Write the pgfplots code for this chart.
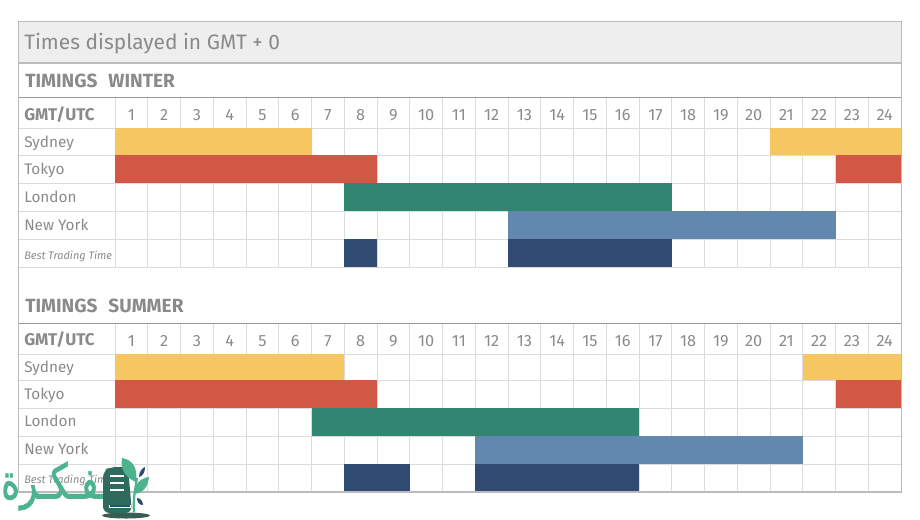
\documentclass[border=0pt]{standalone}
\usepackage{pgfplots}
\pgfplotsset{compat=1.18}
\usepackage{fontspec}
\setmainfont{Fira Sans}
\newfontfamily\arabicfont[Script=Arabic,FakeBold=1.5]{DejaVu Sans}
\TeXXeTstate=1
\definecolor{txt}{HTML}{8A8A8A}
\definecolor{gridc}{HTML}{DCDCDC}
\definecolor{frame}{HTML}{BBBBBB}
\definecolor{syd}{HTML}{F6C660}
\definecolor{tok}{HTML}{D25745}
\definecolor{lon}{HTML}{318672}
\definecolor{nyc}{HTML}{6288AD}
\definecolor{best}{HTML}{2F4B71}
\definecolor{logog}{HTML}{4DB38F}
\definecolor{logod}{HTML}{2F6B5C}
\newcommand{\px}{0.75pt}
\pgfplotsset{
  timing/.style={
    scale only axis, width=883*\px,
    xmin=-2.962, xmax=24, y dir=reverse,
    axis line style={draw=none},
    xtick={0.5,1.5,...,23.5},
    xticklabels={1,2,3,4,5,6,7,8,9,10,11,12,13,14,15,16,17,18,19,20,21,22,23,24},
    minor xtick={0,1,...,24},
    xminorgrids=true, yminorgrids=true,
    minor grid style={gridc, line width=0.8*\px},
    major tick length=0pt, minor tick length=0pt,
    xticklabel pos=top,
    xticklabel style={font=\fontsize{12.2}{14}\selectfont, text=txt, anchor=center, yshift=-18*\px, inner sep=0pt},
    yticklabel style={font=\fontsize{11.5}{14}\selectfont, text=txt, anchor=west, xshift=6*\px, inner sep=0pt, text height=8pt, text depth=0pt},
    clip=false,
  },
  bar/.style={fill=#1, draw=none, line width=0pt},
}
\newcommand{\gmt}{{\fontsize{12.7}{14}\selectfont\bfseries GMT/UTC}}
\newcommand{\btt}{{\fontsize{8.2}{9}\selectfont\itshape Best Trading Time}}
\begin{document}
\begin{tikzpicture}[x=\px,y=-\px]
\path[use as bounding box] (0,0) rectangle (920,519);
% frame and title bands
\fill[black!6.5] (18.5,21.5) rectangle (901.5,63);
\node[anchor=west,inner sep=0pt,text=txt,font=\fontsize{15.7}{18}\selectfont] at (24,44) {Times displayed in GMT + 0};
\node[anchor=west,inner sep=0pt,text=txt,font=\fontsize{14.3}{16}\selectfont\bfseries] at (25,81) {TIMINGS\,\, WINTER};
\node[anchor=west,inner sep=0pt,text=txt,font=\fontsize{14.3}{16}\selectfont\bfseries] at (25,306) {TIMINGS\,\, SUMMER};
% winter
\begin{axis}[timing, at={(18*\px,-97*\px)}, anchor=north west, height=170*\px,
  ymin=97, ymax=267,
  ytick={115,142,169,197,225,254},
  yticklabels={\gmt,Sydney,Tokyo,London,New York,\btt},
  minor ytick={128,155,183,211,239,267}]
\addplot[bar=syd] coordinates {(0,128)(6,128)(6,155)(0,155)} --cycle;
\addplot[bar=syd] coordinates {(20,128)(24,128)(24,155)(20,155)} --cycle;
\addplot[bar=tok] coordinates {(0,155)(8,155)(8,183)(0,183)} --cycle;
\addplot[bar=tok] coordinates {(22,155)(24,155)(24,183)(22,183)} --cycle;
\addplot[bar=lon] coordinates {(7,183)(17,183)(17,211)(7,211)} --cycle;
\addplot[bar=nyc] coordinates {(12,211)(22,211)(22,239)(12,239)} --cycle;
\addplot[bar=best] coordinates {(7,239)(8,239)(8,267)(7,267)} --cycle;
\addplot[bar=best] coordinates {(12,239)(17,239)(17,267)(12,267)} --cycle;
\end{axis}
% summer
\begin{axis}[timing, at={(18*\px,-323*\px)}, anchor=north west, height=169*\px,
  ymin=323, ymax=492,
  ytick={340.5,367,394,421.5,449.5,478},
  yticklabels={\gmt,Sydney,Tokyo,London,New York,\btt},
  minor ytick={354,380,408,436,464}]
\addplot[bar=syd] coordinates {(0,354)(7,354)(7,380)(0,380)} --cycle;
\addplot[bar=syd] coordinates {(21,354)(24,354)(24,380)(21,380)} --cycle;
\addplot[bar=tok] coordinates {(0,380)(8,380)(8,408)(0,408)} --cycle;
\addplot[bar=tok] coordinates {(22,380)(24,380)(24,408)(22,408)} --cycle;
\addplot[bar=lon] coordinates {(6,408)(16,408)(16,436)(6,436)} --cycle;
\addplot[bar=nyc] coordinates {(11,436)(21,436)(21,464)(11,464)} --cycle;
\addplot[bar=best] coordinates {(7,464)(9,464)(9,492)(7,492)} --cycle;
\addplot[bar=best] coordinates {(11,464)(16,464)(16,492)(11,492)} --cycle;
\end{axis}
% rules
\draw[black!40, line width=1*\px] (18.5,97) -- (901.5,97) (18.5,323) -- (901.5,323);
\draw[frame, line width=1.6*\px] (18.5,63) -- (901.5,63);
\draw[frame, line width=1.6*\px] (18.5,21.5) rectangle (901.5,492);
% logo
\node[anchor=west,inner sep=0pt,text=logog,font=\arabicfont\fontsize{27}{30}\selectfont,yscale=1.35,transform shape] at (1,486) {\beginR مـفـكـرة\endR};
\fill[logod!70!black, opacity=.9] (126,515.5) ellipse (24 and 3);
\fill[logod, rounded corners=5] (103,471) -- (110,467) -- (128,467) -- (132,513) -- (103,513) -- cycle;
\draw[white, line width=2.5*\px] (110,476) -- (124,476) (110,483) -- (124,483) (110,490) -- (124,490);
\draw[white, line width=3*\px] (109,506) -- (131,506);
\draw[best, line width=1.2*\px] (110,506) -- (130,506);
\draw[logog, line width=2.2*\px] (134,512) .. controls (133,500) and (135,490) .. (137,478);
\fill[logog] (122,458) .. controls (133,460) and (138,468) .. (136,482) .. controls (126,478) and (120,470) .. (122,458);
\fill[logog] (134,494) .. controls (134,484) and (141,478) .. (149,477) .. controls (148,487) and (143,493) .. (134,494);
\fill[best] (139,477) .. controls (139,472) and (142,468) .. (145,467) .. controls (145,472) and (143,476) .. (139,477);
\fill[best] (137,498) .. controls (141,498) and (143,502) .. (143,505) .. controls (139,505) and (137,502) .. (137,498);
\end{tikzpicture}
\end{document}
